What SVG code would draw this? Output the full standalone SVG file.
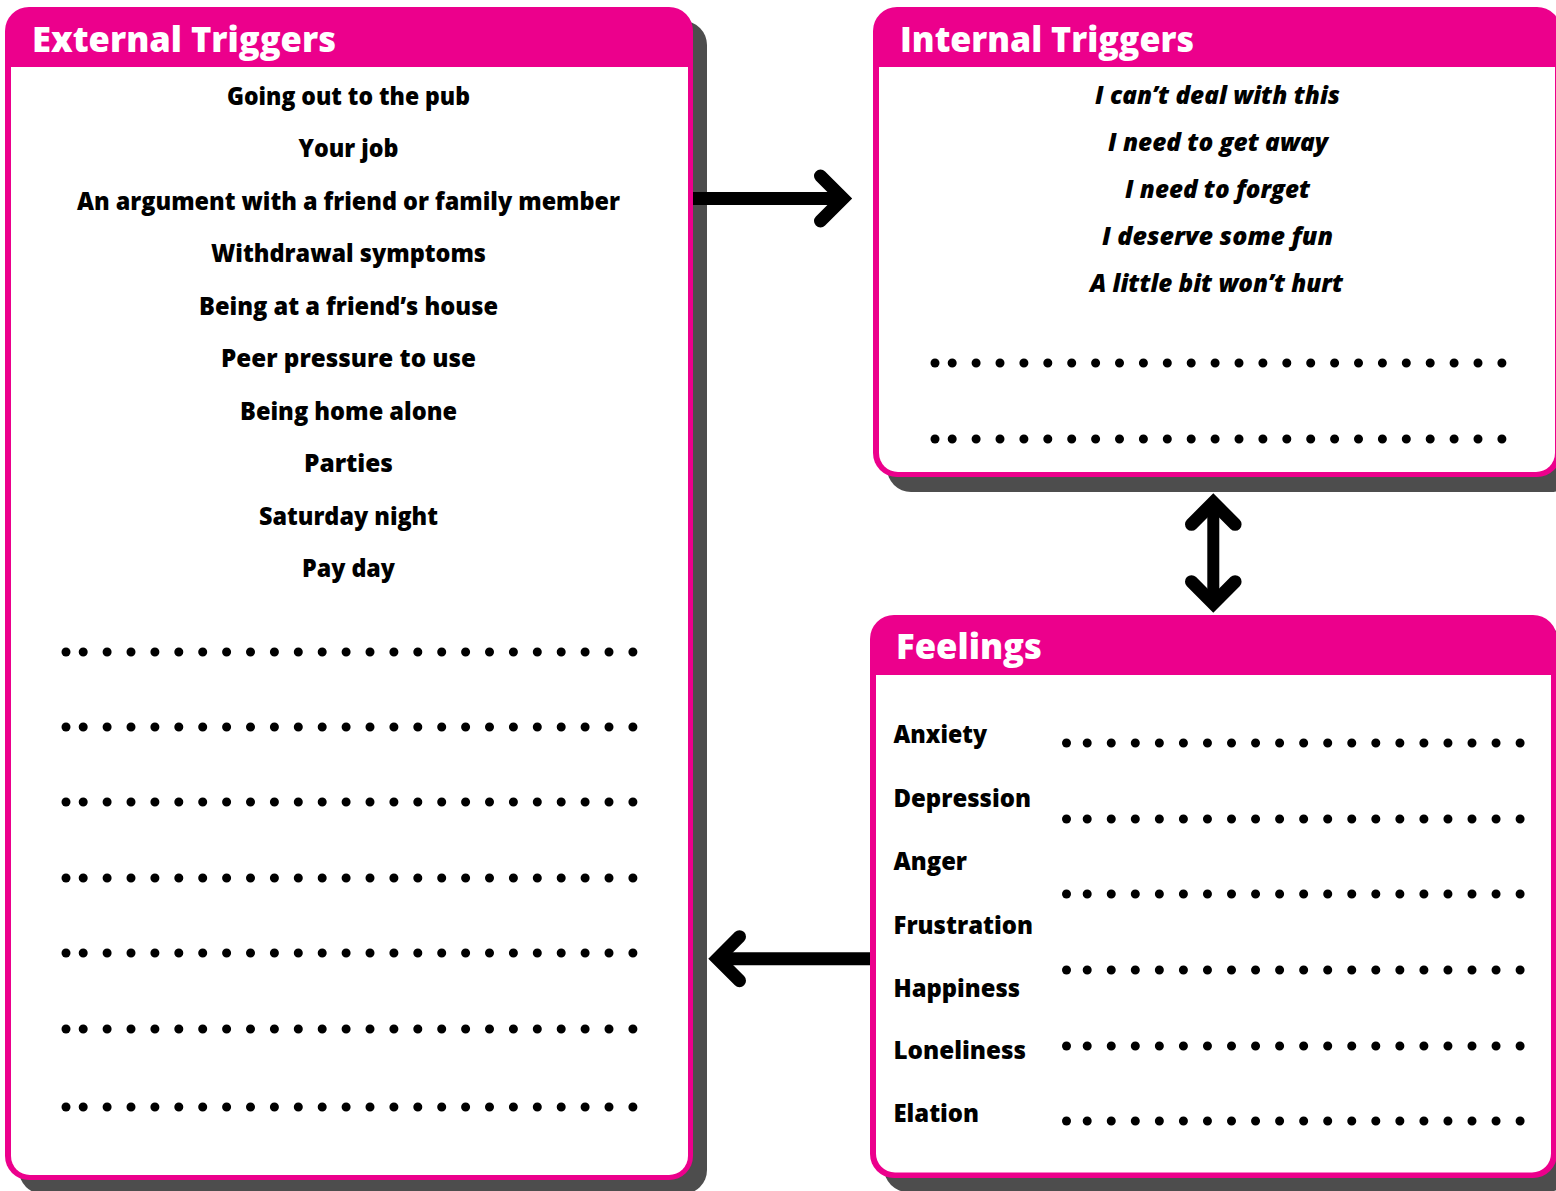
<svg xmlns="http://www.w3.org/2000/svg" width="1556" height="1191" viewBox="0 0 1556 1191">
<style>
.shadow{fill:#4d4d4d}
.frame{fill:#ec008c}
.inner{fill:#ffffff}
.head{font-family:"Open Sans","DejaVu Sans",sans-serif;font-weight:800;font-size:35px;fill:#ffffff}
.body{font-family:"Open Sans","DejaVu Sans",sans-serif;font-weight:800;font-size:24px;fill:#000000}
.it{font-style:italic}
.lab{font-size:25px}
.dot{fill:#000}
.dots{stroke:#000;stroke-width:9;stroke-linecap:round;fill:none}
.conn{stroke:#000;stroke-width:13;fill:none}
.head-arrow{stroke:#000;stroke-width:13;fill:none;stroke-linecap:round;stroke-linejoin:miter}
</style>
<rect width="1556" height="1191" fill="#ffffff"/>

<g id="external-triggers">
<rect class="shadow" x="19" y="21" width="688" height="1173" rx="24"/>
<rect class="frame" x="5" y="7" width="688" height="1173" rx="24"/>
<path class="inner" d="M11,67 H688 V1156 A19,19 0 0 1 669,1175 H30 A19,19 0 0 1 11,1156 Z"/>
<text class="head" x="32" y="52" textLength="304" lengthAdjust="spacingAndGlyphs">External Triggers</text>
<g class="body" text-anchor="middle">
<text x="348.5" y="105" textLength="243" lengthAdjust="spacingAndGlyphs">Going out to the pub</text>
<text x="348.5" y="157" textLength="100" lengthAdjust="spacingAndGlyphs">Your job</text>
<text x="348.5" y="210" textLength="543" lengthAdjust="spacingAndGlyphs">An argument with a friend or family member</text>
<text x="348.5" y="262" textLength="275" lengthAdjust="spacingAndGlyphs">Withdrawal symptoms</text>
<text x="348.5" y="315" textLength="299" lengthAdjust="spacingAndGlyphs">Being at a friend’s house</text>
<text x="348.5" y="367" textLength="255" lengthAdjust="spacingAndGlyphs">Peer pressure to use</text>
<text x="348.5" y="420" textLength="217" lengthAdjust="spacingAndGlyphs">Being home alone</text>
<text x="348.5" y="472" textLength="89" lengthAdjust="spacingAndGlyphs">Parties</text>
<text x="348.5" y="525" textLength="179" lengthAdjust="spacingAndGlyphs">Saturday night</text>
<text x="348.5" y="577" textLength="93" lengthAdjust="spacingAndGlyphs">Pay day</text>
</g>
<g>
<circle class="dot" cx="66" cy="652" r="4.5"/><line class="dots" x1="83.2" y1="652" x2="633" y2="652" stroke-dasharray="0.01 23.89"/>
<circle class="dot" cx="66" cy="727" r="4.5"/><line class="dots" x1="83.2" y1="727" x2="633" y2="727" stroke-dasharray="0.01 23.89"/>
<circle class="dot" cx="66" cy="802" r="4.5"/><line class="dots" x1="83.2" y1="802" x2="633" y2="802" stroke-dasharray="0.01 23.89"/>
<circle class="dot" cx="66" cy="878" r="4.5"/><line class="dots" x1="83.2" y1="878" x2="633" y2="878" stroke-dasharray="0.01 23.89"/>
<circle class="dot" cx="66" cy="953" r="4.5"/><line class="dots" x1="83.2" y1="953" x2="633" y2="953" stroke-dasharray="0.01 23.89"/>
<circle class="dot" cx="66" cy="1029" r="4.5"/><line class="dots" x1="83.2" y1="1029" x2="633" y2="1029" stroke-dasharray="0.01 23.89"/>
<circle class="dot" cx="66" cy="1107" r="4.5"/><line class="dots" x1="83.2" y1="1107" x2="633" y2="1107" stroke-dasharray="0.01 23.89"/>
</g>
</g>

<g id="internal-triggers">
<rect class="shadow" x="887" y="22" width="688" height="470" rx="24"/>
<rect class="frame" x="873" y="7" width="688" height="470" rx="24"/>
<path class="inner" d="M879,67 H1555 V453 A19,19 0 0 1 1536,472 H898 A19,19 0 0 1 879,453 Z"/>
<text class="head" x="900" y="52" textLength="294" lengthAdjust="spacingAndGlyphs">Internal Triggers</text>
<g class="body it" text-anchor="middle">
<text x="1217.5" y="103.5" textLength="245" lengthAdjust="spacingAndGlyphs">I can’t deal with this</text>
<text x="1218" y="150.5" textLength="220" lengthAdjust="spacingAndGlyphs">I need to get away</text>
<text x="1217.5" y="197.5" textLength="185" lengthAdjust="spacingAndGlyphs">I need to forget</text>
<text x="1217.5" y="245" textLength="231" lengthAdjust="spacingAndGlyphs">I deserve some fun</text>
<text x="1216.5" y="292" textLength="253" lengthAdjust="spacingAndGlyphs">A little bit won’t hurt</text>
</g>
<g>
<circle class="dot" cx="935" cy="363" r="4.5"/><line class="dots" x1="952.2" y1="363" x2="1502" y2="363" stroke-dasharray="0.01 23.89"/>
<circle class="dot" cx="935" cy="439" r="4.5"/><line class="dots" x1="952.2" y1="439" x2="1502" y2="439" stroke-dasharray="0.01 23.89"/>
</g>
</g>

<g id="feelings">
<rect class="shadow" x="884" y="629" width="687" height="563" rx="24"/>
<rect class="frame" x="870" y="615" width="687" height="563" rx="24"/>
<path class="inner" d="M876,675 H1551 V1153 A19,19 0 0 1 1532,1172.5 H895 A19,19 0 0 1 876,1153 Z"/>
<text class="head" x="896" y="659" textLength="146" lengthAdjust="spacingAndGlyphs">Feelings</text>
<g class="body lab">
<text x="893.5" y="743" textLength="93.5" lengthAdjust="spacingAndGlyphs">Anxiety</text>
<text x="893.5" y="807" textLength="137.5" lengthAdjust="spacingAndGlyphs">Depression</text>
<text x="893.5" y="870" textLength="73.5" lengthAdjust="spacingAndGlyphs">Anger</text>
<text x="893.5" y="934" textLength="139.5" lengthAdjust="spacingAndGlyphs">Frustration</text>
<text x="893.5" y="996.5" textLength="126.5" lengthAdjust="spacingAndGlyphs">Happiness</text>
<text x="893.5" y="1059" textLength="132.5" lengthAdjust="spacingAndGlyphs">Loneliness</text>
<text x="893.5" y="1122" textLength="85.5" lengthAdjust="spacingAndGlyphs">Elation</text>
</g>
<g>
<circle class="dot" cx="1066.5" cy="743" r="4.5"/><line class="dots" x1="1087.2" y1="743" x2="1520.2" y2="743" stroke-dasharray="0.01 24.04"/>
<circle class="dot" cx="1066.5" cy="819" r="4.5"/><line class="dots" x1="1087.2" y1="819" x2="1520.2" y2="819" stroke-dasharray="0.01 24.04"/>
<circle class="dot" cx="1066.5" cy="894" r="4.5"/><line class="dots" x1="1087.2" y1="894" x2="1520.2" y2="894" stroke-dasharray="0.01 24.04"/>
<circle class="dot" cx="1066.5" cy="970" r="4.5"/><line class="dots" x1="1087.2" y1="970" x2="1520.2" y2="970" stroke-dasharray="0.01 24.04"/>
<circle class="dot" cx="1066.5" cy="1046" r="4.5"/><line class="dots" x1="1087.2" y1="1046" x2="1520.2" y2="1046" stroke-dasharray="0.01 24.04"/>
<circle class="dot" cx="1066.5" cy="1121" r="4.5"/><line class="dots" x1="1087.2" y1="1121" x2="1520.2" y2="1121" stroke-dasharray="0.01 24.04"/>
</g>
</g>

<g id="connectors">
<line class="conn" x1="693" y1="198.5" x2="842" y2="198.5"/>
<polyline class="head-arrow" points="820.5,176 843,198.5 820.5,221"/>
<line class="conn" x1="870" y1="958.7" x2="719" y2="958.7"/>
<polyline class="head-arrow" points="739.5,936.7 717.5,958.7 739.5,980.7"/>
<line class="conn" x1="1213.3" y1="503.5" x2="1213.3" y2="602.5" style="stroke-width:12"/>
<polyline class="head-arrow" points="1191.5,524.3 1213.3,502.5 1235.1,524.3"/>
<polyline class="head-arrow" points="1191.5,581.7 1213.3,603.5 1235.1,581.7"/>
</g>
</svg>
